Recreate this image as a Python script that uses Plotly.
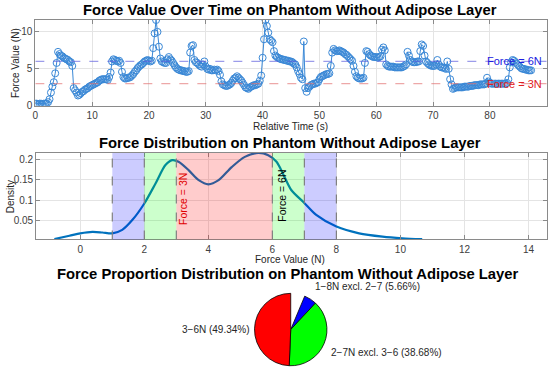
import plotly.graph_objects as go

# ---------------- data ----------------
force_values = [
    0.3, 0.3, 0.2, 0.3,  0.3, 0.2, 0.3, 0.3,  0.3, 0.5, 0.9, 1.8,  2.6, 3.2, 4.4, 5.8,
    7.3, 7.0, 6.8, 6.7,  6.5, 6.4, 6.3, 6.2,  6.0, 5.9, 5.4, 2.4,  2.1, 1.8, 1.4, 1.5,
    1.7, 1.9, 2.0, 2.2,  2.3, 2.4, 2.6, 2.7,  2.8, 2.9, 3.0, 3.1,  3.2, 3.4, 3.5, 3.6,
    3.6, 3.6, 3.6, 3.5,  3.9, 4.5, 6.0, 6.3,  6.2, 6.1, 6.0, 6.1,  5.8, 4.6, 3.9, 3.7,
    3.7, 3.8, 3.8, 3.9,  4.1, 4.3, 4.6, 4.8,  5.1, 5.3, 5.5, 5.6,  5.8, 6.0, 6.1, 6.2,
    6.1, 6.0, 6.1, 7.8,  9.8, 11.6, 10.0, 8.0,  6.4, 6.0, 5.9, 5.8,  5.8, 6.3, 6.6, 6.3,
    6.1, 5.8, 5.5, 5.2,  5.0, 4.9, 4.8, 4.8,  4.7, 4.7, 4.6, 4.6,  4.7, 7.2, 8.1, 8.2,
    6.2, 5.9, 5.8, 5.6,  5.4, 5.3, 5.6, 6.0,  5.3, 5.0, 4.9, 5.0,  4.8, 4.8, 4.9, 4.8,
    4.9, 4.7, 4.2, 3.3,  2.9, 2.8, 2.7, 2.7,  2.8, 2.9, 3.1, 3.4,  3.7, 3.8, 4.0, 3.8,
    3.6, 3.4, 3.1, 2.8,  2.5, 2.4, 2.3, 2.5,  2.6, 2.7, 2.8, 2.8,  2.9, 3.0, 3.4, 4.1,
    6.5, 9.0, 11.6, 10.8,  9.9, 9.0, 8.8, 8.6,  7.4, 6.8, 6.6, 6.5,  6.4, 6.3, 6.3, 6.2,
    6.2, 6.1, 6.1, 6.0,  6.0, 5.9, 5.7, 5.6,  5.2, 4.7, 4.3, 3.8,  3.6, 8.7, 2.4, 1.9,
    2.4, 2.6, 2.8, 2.9,  3.0, 3.0, 3.1, 3.2,  3.6, 3.9, 4.0, 4.1,  4.2, 4.3, 4.3, 4.4,
    5.4, 7.2, 7.7, 7.5,  7.4, 7.4, 7.5, 7.4,  7.3, 7.2, 7.0, 6.9,  6.7, 6.5, 6.3, 6.1,
    5.4, 4.6, 4.0, 3.8,  3.7, 3.7, 3.7, 3.8,  5.8, 7.4, 7.3, 7.0,  6.8, 6.7, 6.6, 6.6,
    6.6, 6.5, 6.6, 6.7,  7.6, 7.9, 7.5, 5.6,  5.4, 5.3, 5.3, 5.3,  5.3, 5.2, 5.2, 5.2,
    5.2, 5.2, 5.2, 5.3,  5.4, 5.6, 7.3, 6.8,  6.2, 6.0, 5.9, 5.9,  5.9, 6.0, 6.0, 7.4,
    8.3, 8.1, 6.8, 6.0,  5.8, 5.6, 5.5, 5.4,  5.4, 5.4, 5.6, 6.2,  5.6, 5.3, 5.2, 5.2,
    5.1, 5.0, 6.0, 5.0,  3.6, 2.9, 2.3, 2.4,  2.5, 2.5, 2.5, 2.5,  2.5, 2.5, 2.6, 2.6,
    2.6, 2.6, 2.7, 2.7,  2.7, 2.8, 2.8, 2.8,  2.8, 2.9, 2.9, 2.9,  2.9, 3.0, 3.8, 3.3,
    3.1, 3.0, 3.0, 3.0,  3.0, 3.0, 3.0, 3.0,  3.0, 3.0, 3.0, 3.0,  3.1, 3.6, 5.2, 5.9,
    6.2, 6.1, 5.9, 5.7,  5.5, 5.3, 5.1, 5.0,  5.0, 4.9, 4.9, 4.8,  4.8, 4.8,
]
sample_period = 0.25  # seconds between samples
relative_time = [i * sample_period for i in range(len(force_values))]

threshold_values = [6, 3]
threshold_labels = ["Force = 6N", "Force = 3N"]

kde_x = [-0.81, -0.34, 0.0, 0.38, 0.69, 1.0, 1.31, 1.63, 2.0, 2.35, 2.66, 2.87, 3.07,
         3.39, 3.7, 4.0, 4.32, 4.73, 5.14, 5.56, 5.87, 6.13, 6.33, 6.59, 6.99, 7.37,
         8.0, 8.71, 9.44, 10.06, 10.68]
kde_y = [0.005, 0.013, 0.019, 0.0226, 0.021, 0.019, 0.0275, 0.052, 0.092, 0.141, 0.186,
         0.198, 0.194, 0.173, 0.149, 0.139, 0.149, 0.181, 0.206, 0.2156, 0.21, 0.194,
         0.165, 0.125, 0.094, 0.064, 0.0355, 0.019, 0.011, 0.007, 0.0046]

band_ranges = [(1, 2), (2, 3), (3, 6), (6, 7), (7, 8)]
band_colors = ["rgba(0,0,255,0.2)", "rgba(0,255,0,0.2)", "rgba(255,0,0,0.2)",
               "rgba(0,255,0,0.2)", "rgba(0,0,255,0.2)"]
boundary_lines = [1, 2, 3, 6, 7, 8]

pie_labels = ["3\u22126N (49.34%)", "2\u22127N excl. 3\u22126 (38.68%)", "1\u22128N excl. 2\u22127 (5.66%)"]
pie_values = [49.34, 38.68, 5.66]
pie_colors = ["#ff0000", "#00ff00", "#0000ff"]

# ---------------- figure ----------------
FONT = "Liberation Sans, Arial, sans-serif"
TICKC = "#404040"
fig = go.Figure()

blue = "#3a88d6"
fig.add_trace(go.Scatter(
    x=relative_time, y=force_values, mode="lines+markers",
    line=dict(color=blue, width=1),
    marker=dict(symbol="circle-open", size=7, color=blue, line=dict(width=1)),
    xaxis="x", yaxis="y", showlegend=False, hoverinfo="skip"))

fig.add_trace(go.Scatter(
    x=kde_x, y=kde_y, mode="lines", line=dict(color="#0072BD", width=2.2, shape="spline", smoothing=0.8),
    xaxis="x2", yaxis="y2", showlegend=False, hoverinfo="skip"))

# MATLAB draws a partial pie (sum < 100%) counter-clockwise from 12 o'clock;
# reproduce with a clockwise pie in reversed order preceded by an invisible gap slice.
gap = 100 - sum(pie_values)
rev_vals = [gap] + pie_values[::-1]
rev_labels = [""] + pie_labels[::-1]
rev_colors = ["rgba(0,0,0,0)"] + pie_colors[::-1]
rev_lines = ["rgba(0,0,0,0)"] + ["#000000"] * len(pie_values)
fig.add_trace(go.Pie(
    values=rev_vals, labels=rev_labels,
    domain=dict(x=[0.4593, 0.5927], y=[0.0115, 0.2072]),
    sort=False, direction="clockwise", rotation=0,
    marker=dict(colors=rev_colors, line=dict(color=rev_lines, width=0.8)),
    textinfo="none", hoverinfo="skip", showlegend=False))

shapes = []
th_colors = ["rgba(90,90,220,0.6)", "rgba(225,110,110,0.6)"]
for v, c in zip(threshold_values, th_colors):
    shapes.append(dict(type="line", xref="x", yref="y", x0=0, x1=90, y0=v, y1=v,
                       line=dict(color=c, width=1.2, dash="dash"), layer="above"))
for (a, b), c in zip(band_ranges, band_colors):
    shapes.append(dict(type="rect", xref="x2", yref="y2 domain", x0=a, x1=b, y0=0, y1=1,
                       fillcolor=c, line=dict(width=0), layer="above"))
for v in boundary_lines:
    shapes.append(dict(type="line", xref="x2", yref="y2 domain", x0=v, x1=v, y0=0, y1=1,
                       line=dict(color="#808080", width=1.2, dash="dash"), layer="above"))

ann = []
def text(x, y, s, size=10, color="#262626", xanchor="center", yanchor="middle",
         xref="paper", yref="paper", angle=0, bold=False):
    ann.append(dict(x=x, y=y, xref=xref, yref=yref, text=("<b>%s</b>" % s) if bold else s,
                    showarrow=False, xanchor=xanchor, yanchor=yanchor, textangle=angle,
                    font=dict(family=FONT, size=size, color=color)))

W, H = 550.0, 375.0
def px(x): return x / W
def py(y): return 1 - y / H

text(px(288.5), py(10), "Force Value Over Time on Phantom Without Adipose Layer", size=14.8, color="#000000", bold=True)
text(px(288.5), py(145), "Force Distribution on Phantom Without Adipose Layer", size=14.8, color="#000000", bold=True)
text(px(287), py(277.5), "Force Proportion Distribution on Phantom Without Adipose Layer", size=14.8, color="#000000", bold=True)

text(px(289), py(128.5), "Relative Time (s)", size=10)
text(px(12), py(64), "Force Value (N)", size=10, angle=-90)
text(px(289), py(263), "Force Value (N)", size=10)
text(px(7), py(199), "Density", size=10, angle=-90)

text(89.6, threshold_values[0], threshold_labels[0], size=11, color="#2020e0", xanchor="right", xref="x", yref="y")
text(89.6, threshold_values[1], threshold_labels[1], size=11, color="#e02020", xanchor="right", xref="x", yref="y")

text(3.23, 0.1025, threshold_labels[1], size=10.5, color="#e00000", xref="x2", yref="y2", angle=-90)
text(6.30, 0.111, threshold_labels[0], size=10.5, color="#000000", xref="x2", yref="y2", angle=-90)

text(px(311.7), py(290.5), pie_labels[2], size=10, xanchor="left")
text(px(250), py(334), pie_labels[0], size=10, xanchor="right")
text(px(328), py(357.7), pie_labels[1], size=10, xanchor="left")

axis_common = dict(showgrid=True, gridcolor="#e4e4e4", gridwidth=1, zeroline=False,
                   showline=True, linecolor="#8a8a8a", linewidth=1, mirror="ticks",
                   ticks="inside", ticklen=4, tickcolor="#8a8a8a",
                   tickfont=dict(family=FONT, size=10, color=TICKC))

fig.update_layout(
    width=550, height=375, margin=dict(l=0, r=0, t=0, b=0),
    paper_bgcolor="white", plot_bgcolor="white",
    xaxis=dict(domain=[px(32.5), px(546.7)], range=[0, 90], tickvals=list(range(0, 91, 10)),
               anchor="y", ticklabelstandoff=0, **axis_common),
    yaxis=dict(domain=[py(107.3), py(20)], range=[0, 11.64], tickvals=[0, 5, 10],
               anchor="x", **axis_common),
    xaxis2=dict(domain=[px(33.3), px(546.7)], range=[-1.38, 14.57], tickvals=list(range(0, 15, 2)),
                anchor="y2", ticklabelstandoff=1, **axis_common),
    yaxis2=dict(domain=[py(242.7), py(155)], range=[0.004, 0.2157],
                tickvals=[0.05, 0.1, 0.15, 0.2], ticktext=["0.05", "0.1", "0.15", "0.2"],
                anchor="x2", **axis_common),
    shapes=shapes, annotations=ann,
)

fig.write_html("out.html", config={"displayModeBar": False},
               post_script="document.body.style.margin='0';document.body.style.overflow='hidden';")
